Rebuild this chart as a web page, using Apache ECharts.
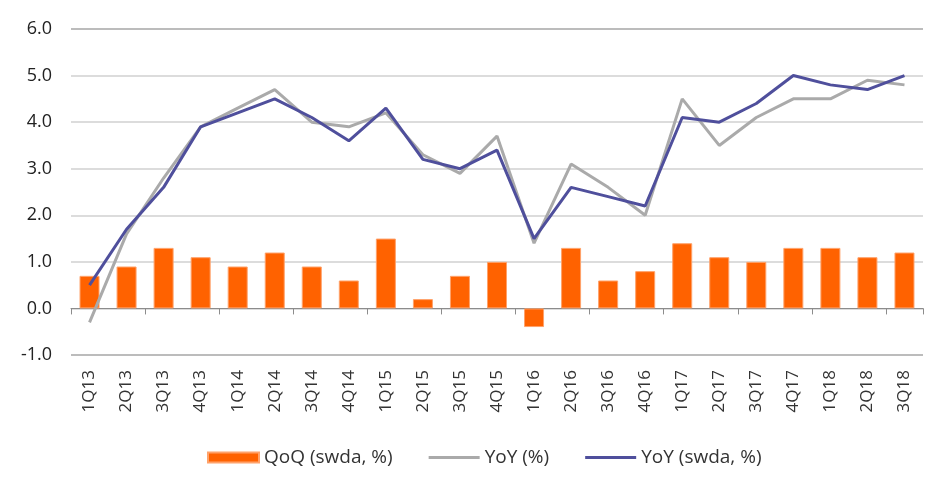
<!DOCTYPE html>
<html>
<head>
<meta charset="utf-8">
<script src="https://cdn.jsdelivr.net/npm/echarts@6/dist/echarts.min.js"></script>
<style>html,body{margin:0;padding:0;background:#fff}#c{width:952px;height:491px}</style>
</head>
<body>
<div id="c"></div>
<script>
const categories = ['1Q13','2Q13','3Q13','4Q13','1Q14','2Q14','3Q14','4Q14','1Q15','2Q15','3Q15','4Q15','1Q16','2Q16','3Q16','4Q16','1Q17','2Q17','3Q17','4Q17','1Q18','2Q18','3Q18'];
const qoq = [0.7,0.9,1.3,1.1,0.9,1.2,0.9,0.6,1.5,0.2,0.7,1.0,-0.4,1.3,0.6,0.8,1.4,1.1,1.0,1.3,1.3,1.1,1.2];
const yoy = [-0.3,1.6,2.8,3.9,4.3,4.7,4.0,3.9,4.2,3.3,2.9,3.7,1.4,3.1,2.6,2.0,4.5,3.5,4.1,4.5,4.5,4.9,4.8];
const yoySwda = [0.5,1.7,2.6,3.9,4.2,4.5,4.1,3.6,4.3,3.2,3.0,3.4,1.5,2.6,2.4,2.2,4.1,4.0,4.4,5.0,4.8,4.7,5.0];
const seriesNames = ['QoQ (swda, %)','YoY (%)','YoY (swda, %)'];

const FONT = '"Open Sans", "Noto Sans", sans-serif';
const LINE_ICON = 'path://M0,0H51V3H0Z';
const chart = echarts.init(document.getElementById('c'), null, {renderer:'canvas'});
chart.setOption({
  animation:false,
  textStyle:{fontFamily:FONT},
  grid:{left:71,right:29,top:29,bottom:136},
  legend:{
    top:443, left:202,
    itemWidth:51, itemHeight:10, itemGap:36,
    textStyle:{fontSize:19,color:'#333',fontFamily:FONT},
    data:[
      {name:seriesNames[0], icon:'rect'},
      {name:seriesNames[1], icon:LINE_ICON},
      {name:seriesNames[2], icon:LINE_ICON}
    ]
  },
  xAxis:[
    {type:'category',data:categories,position:'bottom',
     axisLine:{show:false,onZero:false},axisTick:{show:false},
     axisLabel:{rotate:90,fontSize:17,color:'#333',margin:15,interval:0,fontFamily:FONT}},
    {type:'category',data:categories,position:'top',
     axisLine:{show:true,onZero:true,lineStyle:{color:'#8c8c8c',width:1}},
     axisTick:{show:true,inside:true,length:6,lineStyle:{color:'#8c8c8c'}},
     axisLabel:{show:false}}
  ],
  yAxis:{type:'value',min:-1,max:6,interval:1,
    axisLine:{show:false},axisTick:{show:false},
    axisLabel:{fontSize:18,color:'#222',margin:19,formatter:v=>v.toFixed(1),fontFamily:FONT},
    splitLine:{lineStyle:{color:['#a6a6a6','#d0d0d0','#d0d0d0','#d0d0d0','#d0d0d0','#d0d0d0','#d0d0d0','#a6a6a6'],width:1.5}}
  },
  series:[
    {name:seriesNames[0],type:'bar',data:qoq,barCategoryGap:'46%',
     itemStyle:{color:'#ff6200',borderColor:'#ffa26a',borderWidth:1}},
    {name:seriesNames[1],type:'line',data:yoy,symbol:'none',
     lineStyle:{color:'#aaaaaa',width:3},itemStyle:{color:'#aaaaaa'}},
    {name:seriesNames[2],type:'line',data:yoySwda,symbol:'none',
     lineStyle:{color:'#4f4f9c',width:3},itemStyle:{color:'#4f4f9c'}}
  ]
});
</script>
</body>
</html>
